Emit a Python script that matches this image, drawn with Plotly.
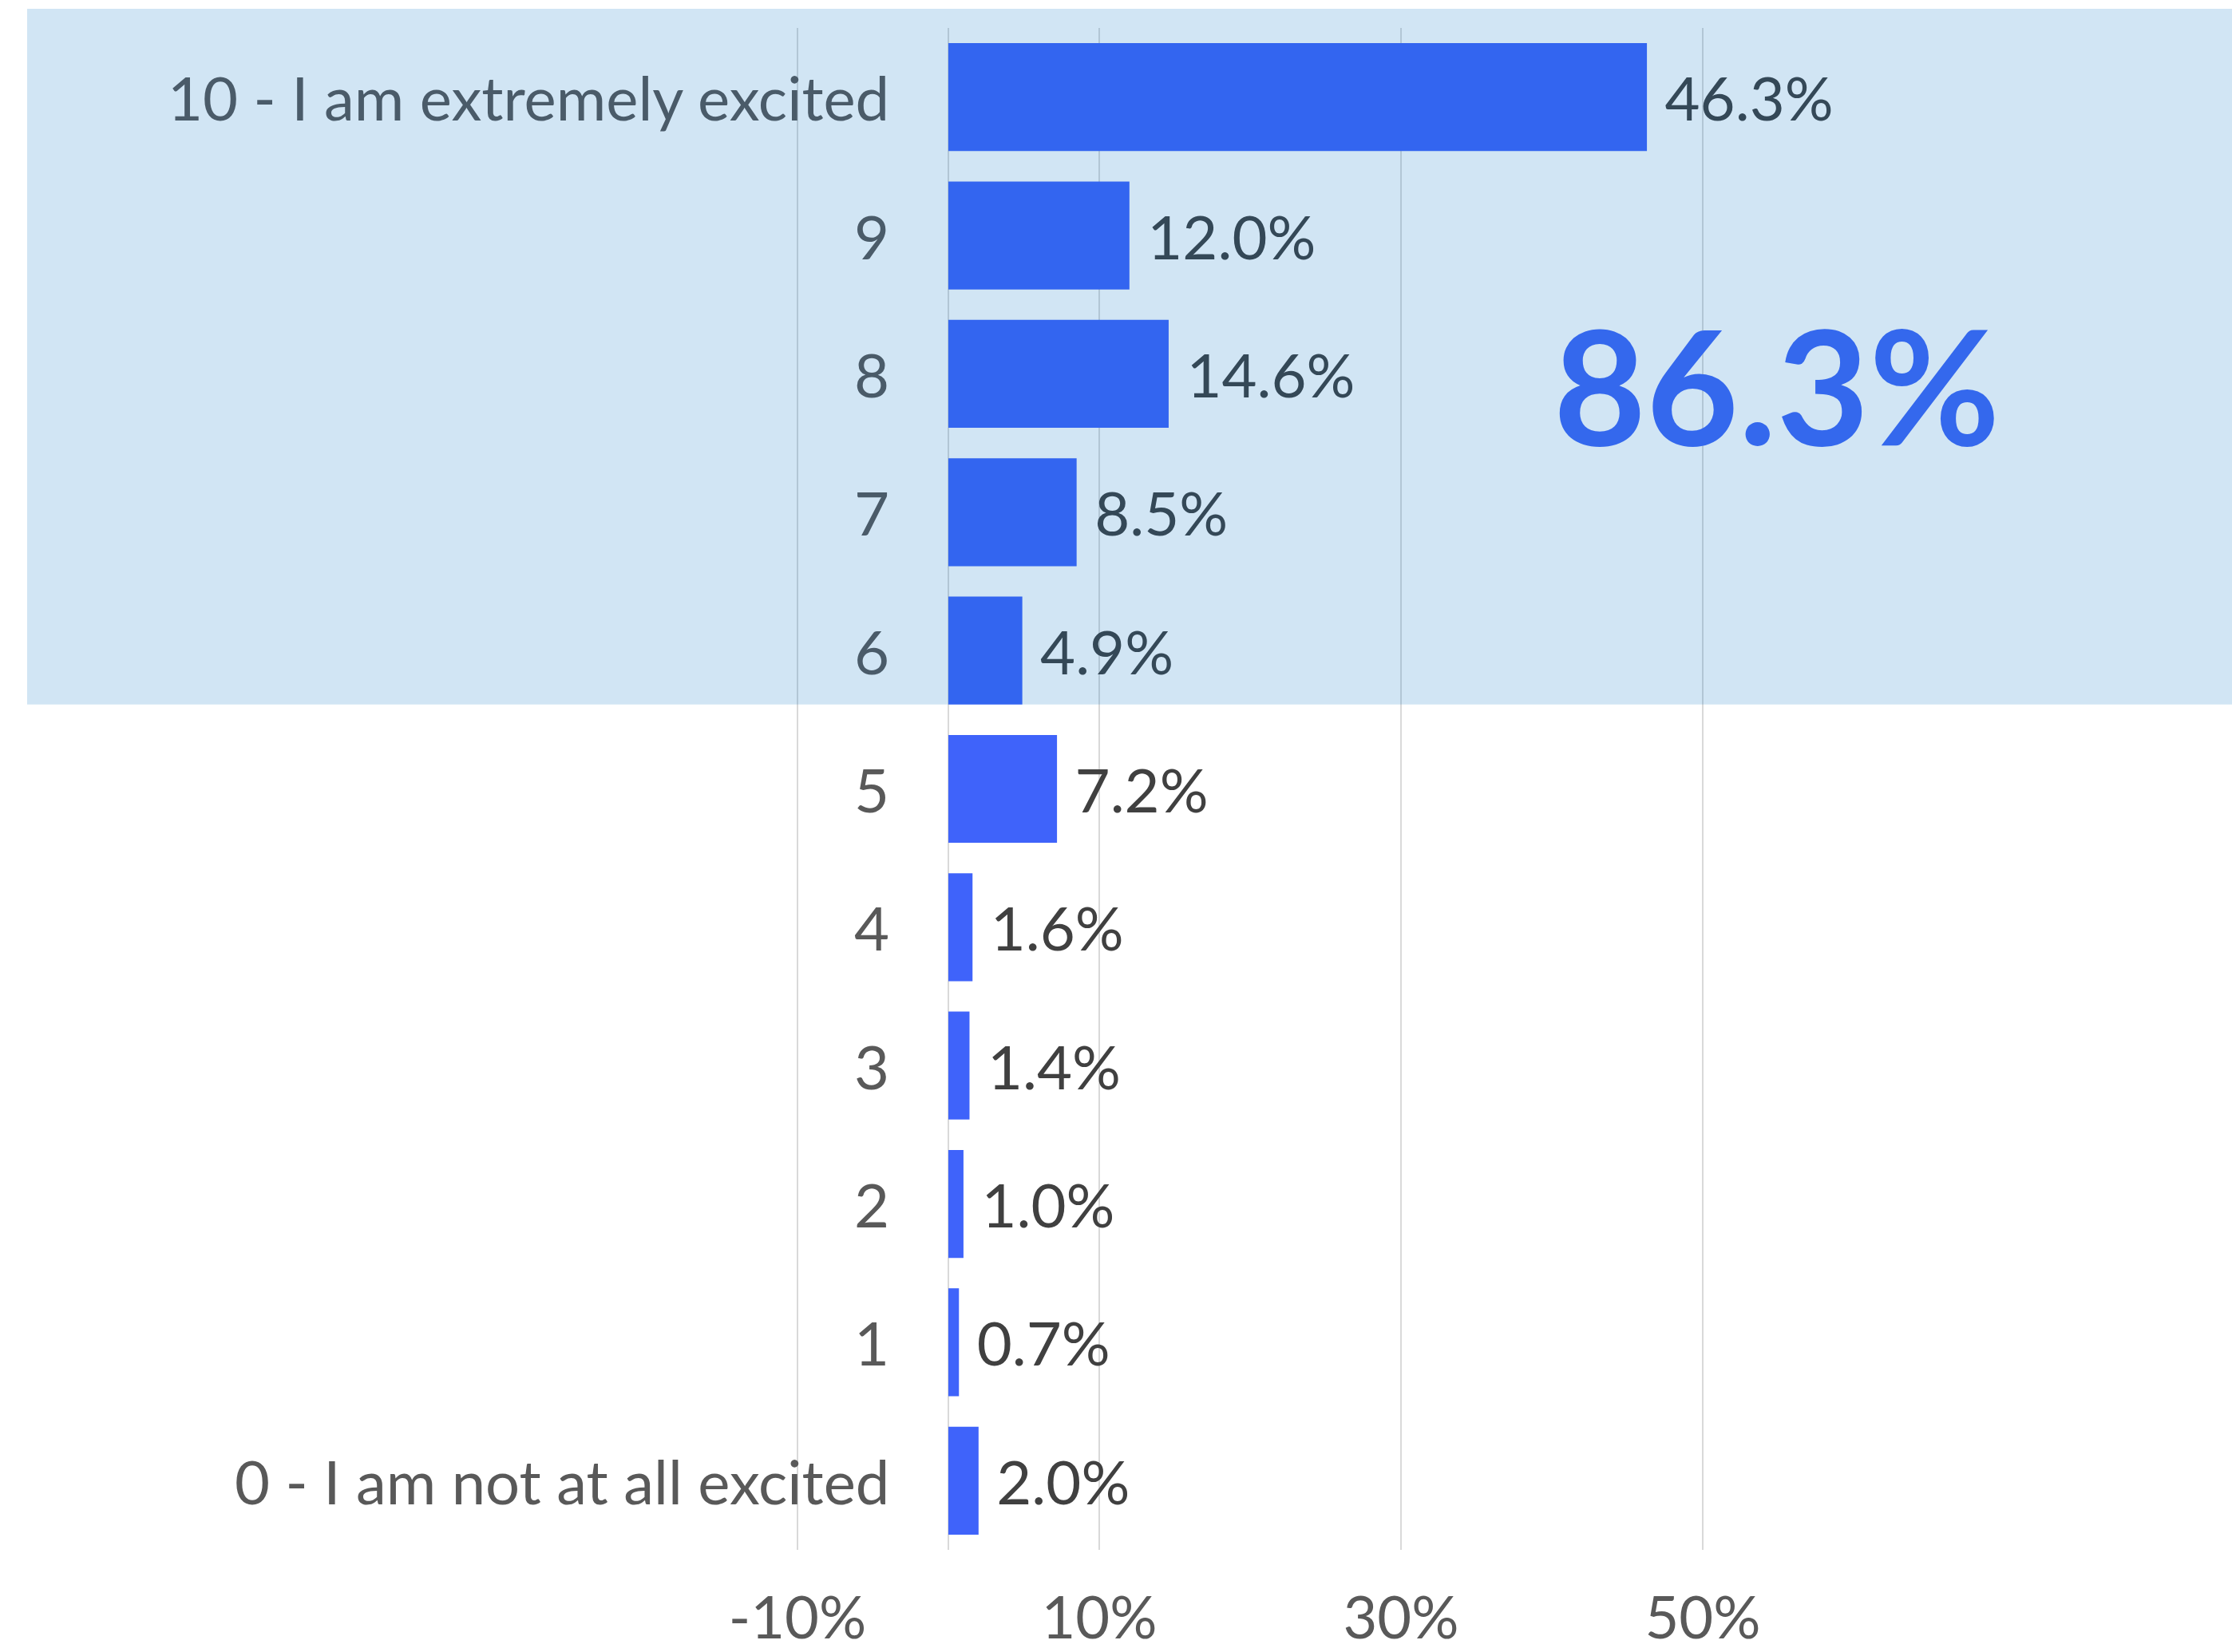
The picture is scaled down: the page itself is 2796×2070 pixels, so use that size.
import plotly.graph_objects as go

# Survey responses: share of respondents per excitement score
categories = [
    "10 - I am extremely excited", "9", "8", "7", "6", "5",
    "4", "3", "2", "1", "0 - I am not at all excited",
]
shares = [46.3, 12.0, 14.6, 8.5, 4.9, 7.2, 1.6, 1.4, 1.0, 0.7, 2.0]
tick_values = [-10, 10, 30, 50]
tick_labels = ["-10%", "10%", "30%", "50%"]
highlight = ["10 - I am extremely excited", "9", "8", "7", "6"]

FONT = "Lato"
FS = 76
BAR = "#3F63FA"
BAND = "rgba(0,112,192,0.18)"
BARGAP = 0.22

W, H = 2796, 2070
M_T, M_B = 35, 128

fig = go.Figure(
    go.Bar(
        x=shares,
        y=categories,
        orientation="h",
        marker=dict(color=BAR, line=dict(width=0)),
        texttemplate="\u00a0%{x:.1f}%",
        textposition="outside",
        constraintext="none",
        cliponaxis=False,
        outsidetextfont=dict(family=FONT, size=FS, color="#404040"),
        hoverinfo="skip",
    )
)

# Category labels, right-aligned just left of the zero line
# (positioned by row index so numeric-looking names stay categorical)
for i, cat in enumerate(categories):
    fig.add_annotation(
        x=0, y=i, xref="x", yref="y",
        text=cat, showarrow=False,
        xanchor="right", yanchor="middle", xshift=-72,
        font=dict(family=FONT, size=FS,
                  color="#4A5B69" if cat in highlight else "#595959"),
    )

# Highlight band over the top-box scores (6-10)
n = len(categories)
last_idx = categories.index(highlight[-1])
band_bottom = 1 - (last_idx + 0.5 + (1 - BARGAP) / 2) / n
plot_h = H - M_T - M_B
fig.add_shape(
    type="rect", xref="paper", yref="paper",
    x0=34 / W, x1=1.0, y0=band_bottom, y1=1 + 24 / plot_h,
    fillcolor=BAND, line=dict(width=0), layer="above",
)

top_box = sum(v for c, v in zip(categories, shares) if c in highlight)
fig.add_annotation(
    x=0.796, y=0.766, xref="paper", yref="paper",
    text=f"<b>{top_box:.1f}%</b>", showarrow=False,
    xanchor="center", yanchor="middle",
    font=dict(family=FONT, size=200, color="#3468ED"),
)

fig.update_layout(
    width=W, height=H,
    margin=dict(l=0, r=0, t=M_T, b=M_B, pad=0, autoexpand=False),
    paper_bgcolor="white", plot_bgcolor="white",
    bargap=BARGAP,
    showlegend=False,
    xaxis=dict(
        range=[-62.86, 85.08],
        tickvals=tick_values, ticktext=tick_labels,
        showgrid=True, gridcolor="#D9D9D9", gridwidth=2,
        zeroline=True, zerolinecolor="#D9D9D9", zerolinewidth=2,
        showline=False, ticks="",
        tickfont=dict(family=FONT, size=74, color="#595959"),
        ticklabelstandoff=36,
        automargin=False,
        fixedrange=True,
    ),
    yaxis=dict(
        type="category",
        categoryorder="array", categoryarray=categories,
        autorange="reversed",
        showticklabels=False, showgrid=False, zeroline=False,
        showline=False, ticks="", automargin=False, fixedrange=True,
    ),
)

fig.write_html("out.html")
